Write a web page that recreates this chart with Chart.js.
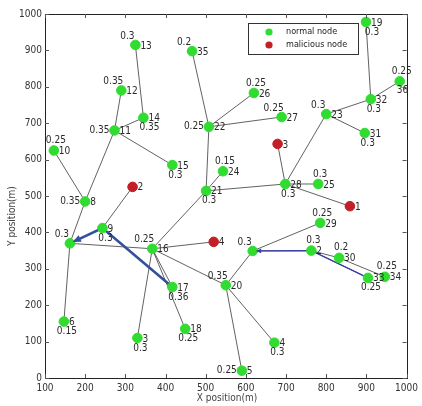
<!DOCTYPE html>
<html><head><meta charset="utf-8">
<script src="https://cdn.jsdelivr.net/npm/chart.js@4.4.0/dist/chart.umd.min.js"></script>
<style>html,body{margin:0;padding:0;background:#fff}#wrap{width:422px;height:406px}</style>
</head><body><div id="wrap"><canvas id="c" width="422" height="406"></canvas></div>
<script>
// Node table: id text, position (m), trust value, malicious flag
const nodeIds = ['1','2','3','4','5','6','','8','9','10','11','12','13','14','15','16','17','18','19','20',
                 '21','22','23','24','25','26','27','28','29','30','31','32','33','34','35','36','','2','3','4'];
const nodeX = [859,318,679,520,590,147,162,200,243,122,273,290,325,345,417,367,417,449,899,550,
               501,508,800,543,780,620,689,698,785,832,896,911,904,946,466,983,617,763,330,671];
const nodeY = [472,525,643,374,20,155,370,485,412,625,680,790,915,715,585,355,250,135,978,255,
               514,690,725,568,533,783,717,533,426,330,673,766,275,278,898,815,349,350,110,97];
const nodeTrust = [null,null,null,null,0.25,0.15,0.3,0.35,0.3,0.25,0.35,0.35,0.3,0.35,0.3,0.25,0.36,0.25,0.3,0.35,
                   0.3,0.25,0.3,0.15,0.3,0.25,0.25,0.3,0.25,0.2,0.3,0.3,0.25,0.25,0.2,0.25,0.3,0.3,0.3,0.3];
const nodeMalicious = [true,true,true,true,false,false,false,false,false,false,false,false,false,false,false,false,false,false,false,false,
                       false,false,false,false,false,false,false,false,false,false,false,false,false,false,false,false,false,false,false,false];

// Links between nodes (indices into the node table)
const edgeFrom = [12,11,13,10,10,9,7,6,6,8,15,15,15,15,15,15,20,21,21,21,20,20,27,27,27,27,22,22,31,31,19,19,19,36,36,37,37,29];
const edgeTo   = [13,10,10,14,7,7,6,5,15,1,16,38,17,20,3,19,21,34,25,26,23,27,2,22,24,0,31,30,18,35,36,39,4,28,37,29,32,33];

// Forwarding routes drawn in blue
const routeA = [16,8,6];
const routeB = [32,37,36];

const xTicks = [100,200,300,400,500,600,700,800,900,1000];
const yTicks = [0,100,200,300,400,500,600,700,800,900,1000];

// Where the trust value sits relative to its node
const trustSide = ['','','','','l','b','al','l','b','a','l','al','al','br','b','al','br','b','br','al',
                   'b','l','al','a','a','a','al','b','a','a','b','b','b','a','al','a','al','a','b','b'];
const idSide = nodeIds.map((_, i) => i === 35 ? 'br' : 'r');

const GREEN = '#30dc30', RED = '#c21f26', EDGE = '#3a3a3a', BLUE = '#34509c', BLUE2 = '#3b3fa8';
const pt = i => ({x: nodeX[i], y: nodeY[i]});

const datasets = [];
datasets.push({
  label: 'normal node', type: 'scatter', order: 0,
  data: nodeX.map((_, i) => i).filter(i => !nodeMalicious[i]).map(pt),
  backgroundColor: GREEN, borderColor: GREEN, pointRadius: 4.8, pointHoverRadius: 4.8
});
datasets.push({
  label: 'malicious node', type: 'scatter', order: 0,
  data: nodeX.map((_, i) => i).filter(i => nodeMalicious[i]).map(pt),
  backgroundColor: RED, borderColor: RED, pointRadius: 4.8, pointHoverRadius: 4.8
});
edgeFrom.forEach((a, k) => {
  datasets.push({
    label: 'link', type: 'scatter', showLine: true, order: 3,
    data: [pt(a), pt(edgeTo[k])],
    borderColor: EDGE, borderWidth: 0.8, pointRadius: 0, fill: false
  });
});
datasets.push({label: 'route', type: 'scatter', showLine: true, order: 2, data: routeA.map(pt),
  borderColor: BLUE, borderWidth: 2.6, pointRadius: 0, fill: false});
datasets.push({label: 'route', type: 'scatter', showLine: true, order: 2, data: routeB.map(pt),
  borderColor: BLUE2, borderWidth: 1.3, pointRadius: 0, fill: false});

const FONT = '"Liberation Sans Narrow","DejaVu Sans Condensed","Liberation Sans",sans-serif';

const decor = {
  id: 'decor',
  afterDatasetsDraw(chart) {
    const {ctx, scales: {x, y}} = chart;
    ctx.save();
    // arrow heads on the routes
    const arrow = (from, to, size, color) => {
      const x0 = x.getPixelForValue(nodeX[from]), y0 = y.getPixelForValue(nodeY[from]);
      const x1 = x.getPixelForValue(nodeX[to]), y1 = y.getPixelForValue(nodeY[to]);
      const ang = Math.atan2(y1 - y0, x1 - x0);
      const tx = x1 - Math.cos(ang) * 3, ty = y1 - Math.sin(ang) * 3;
      ctx.fillStyle = color;
      ctx.beginPath();
      ctx.moveTo(tx, ty);
      ctx.lineTo(tx - size * Math.cos(ang - 0.4), ty - size * Math.sin(ang - 0.4));
      ctx.lineTo(tx - size * Math.cos(ang + 0.4), ty - size * Math.sin(ang + 0.4));
      ctx.closePath(); ctx.fill();
    };
    arrow(routeA[1], routeA[2], 9, BLUE);
    arrow(routeB[1], routeB[2], 6, BLUE2);

    // node id and trust labels
    ctx.font = '10px ' + FONT;
    ctx.fillStyle = '#2a2a2a';
    nodeIds.forEach((id, i) => {
      const px = x.getPixelForValue(nodeX[i]), py = y.getPixelForValue(nodeY[i]);
      if (id) {
        ctx.textBaseline = 'middle';
        ctx.textAlign = 'left';
        if (idSide[i] === 'br') ctx.fillText(id, px - 3, py + 9);
        else ctx.fillText(id, px + 5, py + 1);
      }
      const t = nodeTrust[i];
      if (t !== null) {
        const s = String(t);
        ctx.textBaseline = 'middle';
        switch (trustSide[i]) {
          case 'l':  ctx.textAlign = 'right';  ctx.fillText(s, px - 5, py); break;
          case 'a':  ctx.textAlign = 'center'; ctx.fillText(s, px + 2, py - 10); break;
          case 'al': ctx.textAlign = 'center'; ctx.fillText(s, px - 8, py - 9); break;
          case 'b':  ctx.textAlign = 'center'; ctx.fillText(s, px + 3, py + 10); break;
          case 'br': ctx.textAlign = 'center'; ctx.fillText(s, px + 6, py + 10); break;
        }
      }
    });
    ctx.restore();
  },
  afterDraw(chart) {
    const {ctx, chartArea: ca, scales: {x, y}} = chart;
    ctx.save();
    // axes box
    ctx.strokeStyle = '#222'; ctx.lineWidth = 1;
    ctx.strokeRect(Math.round(ca.left) + 0.5, Math.round(ca.top) + 0.5,
                   Math.round(ca.right - ca.left), Math.round(ca.bottom - ca.top));
    // inward tick marks on all four sides
    ctx.strokeStyle = '#555';
    ctx.beginPath();
    xTicks.forEach(v => {
      const px = Math.round(x.getPixelForValue(v)) + 0.5;
      ctx.moveTo(px, ca.bottom); ctx.lineTo(px, ca.bottom - 4);
      ctx.moveTo(px, ca.top); ctx.lineTo(px, ca.top + 4);
    });
    yTicks.forEach(v => {
      const py = Math.round(y.getPixelForValue(v)) + 0.5;
      ctx.moveTo(ca.left, py); ctx.lineTo(ca.left + 4, py);
      ctx.moveTo(ca.right, py); ctx.lineTo(ca.right - 4, py);
    });
    ctx.stroke();
    // axis titles
    ctx.fillStyle = '#444';
    ctx.font = '10px ' + FONT;
    ctx.textAlign = 'center'; ctx.textBaseline = 'middle';
    ctx.fillText('X position(m)', 227, 398);
    ctx.translate(12, 216); ctx.rotate(-Math.PI / 2);
    ctx.fillText('Y position(m)', 0, 0);
    ctx.restore();

    // legend box
    ctx.save();
    const lx = 248, ly = 23, lw = 110, lh = 31;
    ctx.fillStyle = '#fff'; ctx.fillRect(lx, ly, lw, lh);
    ctx.strokeStyle = '#333'; ctx.lineWidth = 1;
    ctx.strokeRect(lx + 0.5, ly + 0.5, lw, lh);
    ctx.font = '9px ' + FONT; ctx.textAlign = 'left'; ctx.textBaseline = 'middle';
    [0, 1].forEach(k => {
      const ds = chart.data.datasets[k];
      const cy = ly + 9 + k * 13;
      ctx.fillStyle = ds.backgroundColor;
      ctx.beginPath(); ctx.arc(lx + 21, cy, 3.6, 0, Math.PI * 2); ctx.fill();
      ctx.fillStyle = '#222';
      ctx.fillText(ds.label, lx + 38, cy);
    });
    ctx.restore();
  }
};

new Chart(document.getElementById('c'), {
  type: 'scatter',
  data: {datasets},
  options: {
    responsive: false, devicePixelRatio: 1, animation: false,
    layout: {padding: {top: 14, right: 13, left: 0, bottom: 0}},
    plugins: {legend: {display: false}, tooltip: {enabled: false}},
    scales: {
      x: {
        type: 'linear', min: 100, max: 1000,
        afterBuildTicks: s => { s.ticks = xTicks.map(v => ({value: v})); },
        afterFit: s => { s.height = 28; },
        grid: {display: false, drawTicks: false},
        border: {display: false},
        ticks: {color: '#333', font: {size: 10, family: FONT}, padding: 4, maxRotation: 0, autoSkip: false,
                callback: v => String(v)}
      },
      y: {
        type: 'linear', min: 0, max: 1000,
        afterBuildTicks: s => { s.ticks = yTicks.map(v => ({value: v})); },
        afterFit: s => { s.width = 45; },
        grid: {display: false, drawTicks: false},
        border: {display: false},
        ticks: {color: '#333', font: {size: 10, family: FONT}, padding: 3, autoSkip: false,
                callback: v => String(v)}
      }
    }
  },
  plugins: [decor]
});
</script></body></html>
